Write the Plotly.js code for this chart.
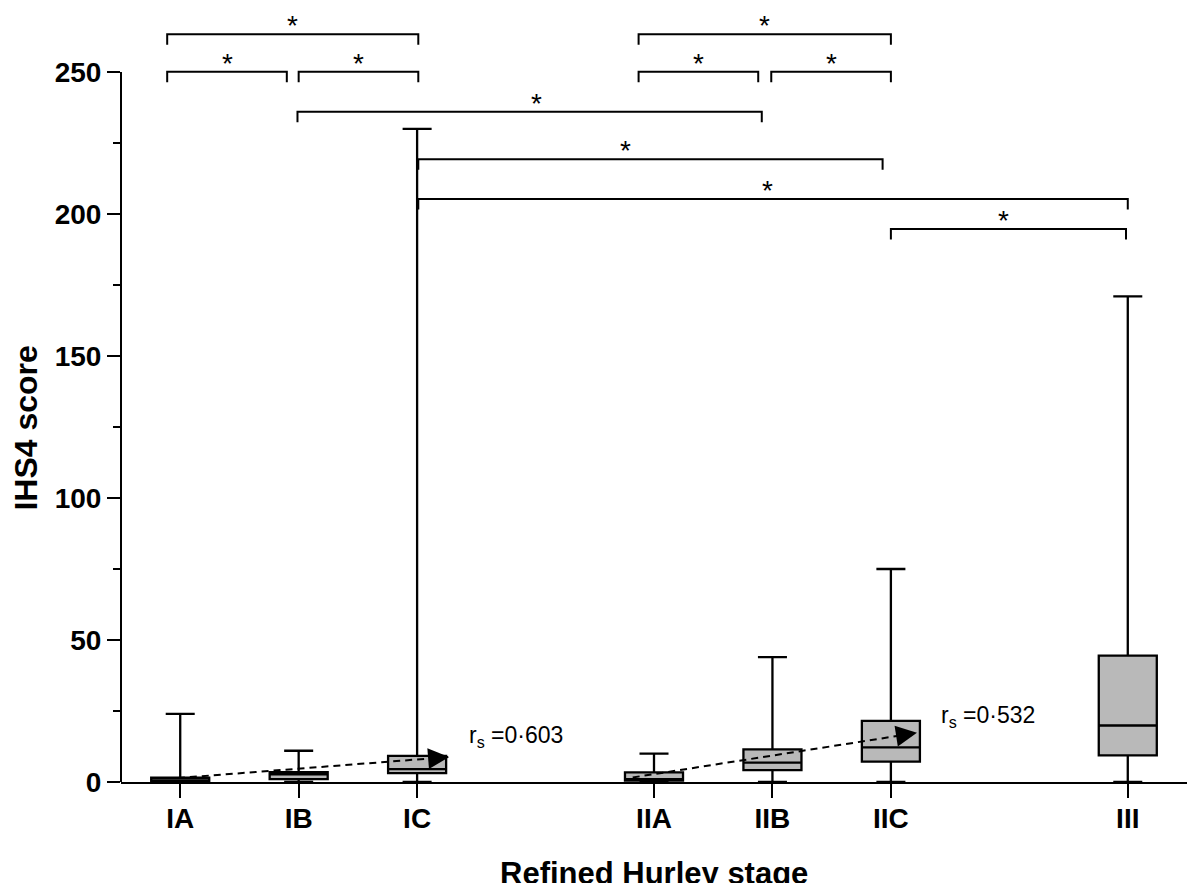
<!DOCTYPE html>
<html><head><meta charset="utf-8">
<script src="https://cdn.plot.ly/plotly-3.0.1.min.js"></script>
<style>html,body{margin:0;padding:0;background:#fff}#chart{width:1187px;height:883px}</style>
</head><body><div id="chart"></div>
<script>
// ---- data ----
const stages = ['IA', 'IB', 'IC', 'IIA', 'IIB', 'IIC', 'III'];
const stagePositions = [0, 1, 2, 4, 5, 6, 8];
const lowerWhisker = [0, 0, 0, 0, 0, 0, 0];
const q1Values = [0, 1.0, 3.1, 0.5, 4.2, 7.2, 9.4];
const medianValues = [0.6, 2.7, 4.5, 1.0, 6.8, 12.2, 19.9];
const q3Values = [1.5, 3.5, 9.2, 3.4, 11.5, 21.5, 44.5];
const upperWhisker = [24, 11, 230, 10, 44, 75, 171];
const yTickValues = [0, 50, 100, 150, 200, 250];
const yMinorTickValues = [25, 75, 125, 175, 225];

const comparisonFrom = ['IA', 'IA', 'IB', 'IIA', 'IIA', 'IIB', 'IB', 'IC', 'IC', 'IIC'];
const comparisonTo = ['IC', 'IB', 'IC', 'IIC', 'IIB', 'IIC', 'IIB', 'IIC', 'III', 'III'];
const comparisonLevel = [263.3, 250.1, 250.1, 263.3, 250.1, 250.1, 236.0, 219.3, 205.3, 194.7];
const comparisonMark = ['*', '*', '*', '*', '*', '*', '*', '*', '*', '*'];

const trendFrom = ['IA', 'IIA'];
const trendTo = ['IC', 'IIC'];
const trendStartValue = [1.4, 1.6];
const trendEndValue = [8.8, 17.3];
const trendLabel = ['r<sub>s</sub> =0·603', 'r<sub>s</sub> =0·532'];

const xTitle = 'Refined Hurley stage';
const yTitle = 'IHS4 score';

// ---- geometry / style ----
const G = {
  yMax: 275.35,
  bracketStartShift: [-0.11, -0.11, 0.0, -0.13, -0.13, -0.01, -0.01, 0.01, 0.01, 0.0],
  bracketEndShift:   [0.01, -0.10, 0.01, 0.0, -0.12, 0.0, -0.09, -0.07, 0.0, -0.015],
  starShift:         [0, 0, 0, 0, 0, 0, 0.06, -0.21, -0.05, -0.04],
  drop: 3.7,
  trendStartShift: [-0.02, -0.18],
  trendEndShift: [0.27, 0.22],
  labelDx: [0.15, 0.19],
  labelYShift: [21, 16],
  font: 'Liberation Sans, Arial, Helvetica, sans-serif'
};
const pos = s => stagePositions[stages.indexOf(s)];

const shapes = [];
const annotations = [];

// y axis line from 0 to 250 only
shapes.push({type: 'line', xref: 'paper', yref: 'paper', x0: 0, x1: 0, y0: 0,
  y1: yTickValues[yTickValues.length - 1] / G.yMax, line: {color: '#000', width: 2}});

// significance brackets
comparisonFrom.forEach((a, i) => {
  const x0 = pos(a) + G.bracketStartShift[i];
  const x1 = pos(comparisonTo[i]) + G.bracketEndShift[i];
  const y = comparisonLevel[i];
  const yd = y - G.drop;
  shapes.push({type: 'path', xref: 'x', yref: 'y',
    path: `M${x0},${yd} L${x0},${y} L${x1},${y} L${x1},${yd}`,
    line: {color: '#000', width: 2}});
  annotations.push({xref: 'x', yref: 'y', x: (x0 + x1) / 2 + G.starShift[i], y: y,
    text: comparisonMark[i], showarrow: false, yanchor: 'bottom', xanchor: 'center', yshift: -9,
    font: {size: 28, color: '#000', family: G.font}});
});

// dashed trend arrows
trendFrom.forEach((a, i) => {
  const xs = pos(a) + G.trendStartShift[i];
  const xe = pos(trendTo[i]) + G.trendEndShift[i];
  const ys = trendStartValue[i];
  const ye = trendEndValue[i];
  shapes.push({type: 'line', xref: 'x', yref: 'y', x0: xs, y0: ys, x1: xe, y1: ye,
    line: {color: '#000', width: 2, dash: '7px,5px'}});
  const back = 0.15;
  const slope = (ye - ys) / (xe - xs);
  annotations.push({xref: 'x', yref: 'y', axref: 'x', ayref: 'y', x: xe, y: ye,
    ax: xe - back, ay: ye - slope * back, text: '', showarrow: true,
    arrowhead: 2, arrowsize: 2.1, arrowwidth: 2, arrowcolor: '#000', standoff: 0, startstandoff: 0});
  annotations.push({xref: 'x', yref: 'y', x: xe + G.labelDx[i], y: ye,
    yshift: G.labelYShift[i], text: trendLabel[i], showarrow: false, xanchor: 'left', yanchor: 'middle',
    font: {size: 23, color: '#000', family: G.font}});
});

// axis titles
annotations.push({xref: 'paper', yref: 'paper', x: 0.5, y: -0.1164, text: xTitle, showarrow: false,
  xanchor: 'center', yanchor: 'middle', font: {size: 31, weight: 'bold', color: '#000', family: G.font}});
annotations.push({xref: 'paper', yref: 'paper', x: -0.090, y: 0.452, text: yTitle, showarrow: false,
  textangle: -90, xanchor: 'center', yanchor: 'middle', font: {size: 32, weight: 'bold', color: '#000', family: G.font}});

const trace = {
  type: 'box',
  x: stagePositions,
  q1: q1Values,
  median: medianValues,
  q3: q3Values,
  lowerfence: lowerWhisker,
  upperfence: upperWhisker,
  boxpoints: false,
  width: 0.49,
  whiskerwidth: 0.5,
  fillcolor: '#b9b9b9',
  line: {color: '#000', width: 2.3},
  hoverinfo: 'skip'
};

const layout = {
  width: 1187, height: 883,
  margin: {l: 121, r: 0, t: 0, b: 101},
  paper_bgcolor: '#fff', plot_bgcolor: '#fff',
  showlegend: false,
  font: {family: G.font, color: '#000'},
  xaxis: {range: [-0.5, 8.5], tickmode: 'array', tickvals: stagePositions, ticktext: stages,
    ticks: 'outside', ticklen: 14, tickwidth: 2, tickcolor: '#000', ticklabelstandoff: -4,
    showline: true, linewidth: 2, linecolor: '#000', showgrid: false, zeroline: false,
    tickfont: {size: 28, weight: 'bold', color: '#000', family: G.font}},
  yaxis: {range: [0, G.yMax], tickmode: 'array', tickvals: yTickValues,
    ticks: 'outside', ticklen: 13, tickwidth: 2, tickcolor: '#000',
    showline: false, showgrid: false, zeroline: false,
    tickfont: {size: 28, weight: 'bold', color: '#000', family: G.font},
    minor: {tickmode: 'array', tickvals: yMinorTickValues, ticks: 'outside', ticklen: 7, tickwidth: 2,
      tickcolor: '#000', showgrid: false}},
  shapes: shapes,
  annotations: annotations
};

Plotly.newPlot('chart', [trace], layout, {staticPlot: true, displayModeBar: false});
</script>
</body></html>
